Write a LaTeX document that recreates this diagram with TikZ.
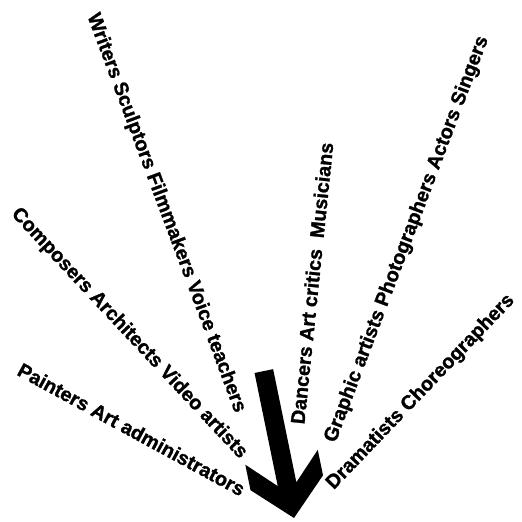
\documentclass[tikz,border=0pt]{standalone}
\usepackage{fontspec}
\setmainfont{Liberation Sans}[BoldFeatures={FakeBold=1.2}]
\usetikzlibrary{calc}

\begin{document}
\begin{tikzpicture}[x=1pt, y=1pt,
  jobs/.style={font=\fontsize{19.8}{22}\selectfont\bfseries, inner sep=0pt},
  bigarrow/.style={fill=black},
]
\path[use as bounding box, fill=white] (0,0) rectangle (522,522);

% left side, read towards the tip
\node[jobs, anchor=east, rotate=-69.6] (writers) at (240,110) {Writers Sculptors Filmmakers Voice teachers};
\node[jobs, anchor=east, rotate=-46.9] (composers) at (243.8,66) {Composers Architects Video artists};
\node[jobs, anchor=east, rotate=-28.6] (painters) at (243.8,31.4) {Painters Art administrators};

% right side, read away from the tip
\node[jobs, anchor=west, rotate=84.1] (dancers) at (297.3,97.9) {Dancers Art critics~ Musicians};
\node[jobs, anchor=west, rotate=69.3] (graphic) at (330.6,80.3) {Graphic artists Photographers Actors Singers};
\node[jobs, anchor=west, rotate=46.2] (dramatists) at (330,35.3) {Dramatists Choreographers};

% the arrow
\coordinate (tip) at (294,4);
\fill[bigarrow, shift={(tip)}, rotate=-78.4]
  (0,0) -- (-36,37) -- (-62,37) -- (-34.5,9.5) -- (-150,9.5) -- (-150,-9.5)
  -- (-34.5,-9.5) -- (-62,-37) -- (-36,-37) -- cycle;
\end{tikzpicture}
\end{document}
